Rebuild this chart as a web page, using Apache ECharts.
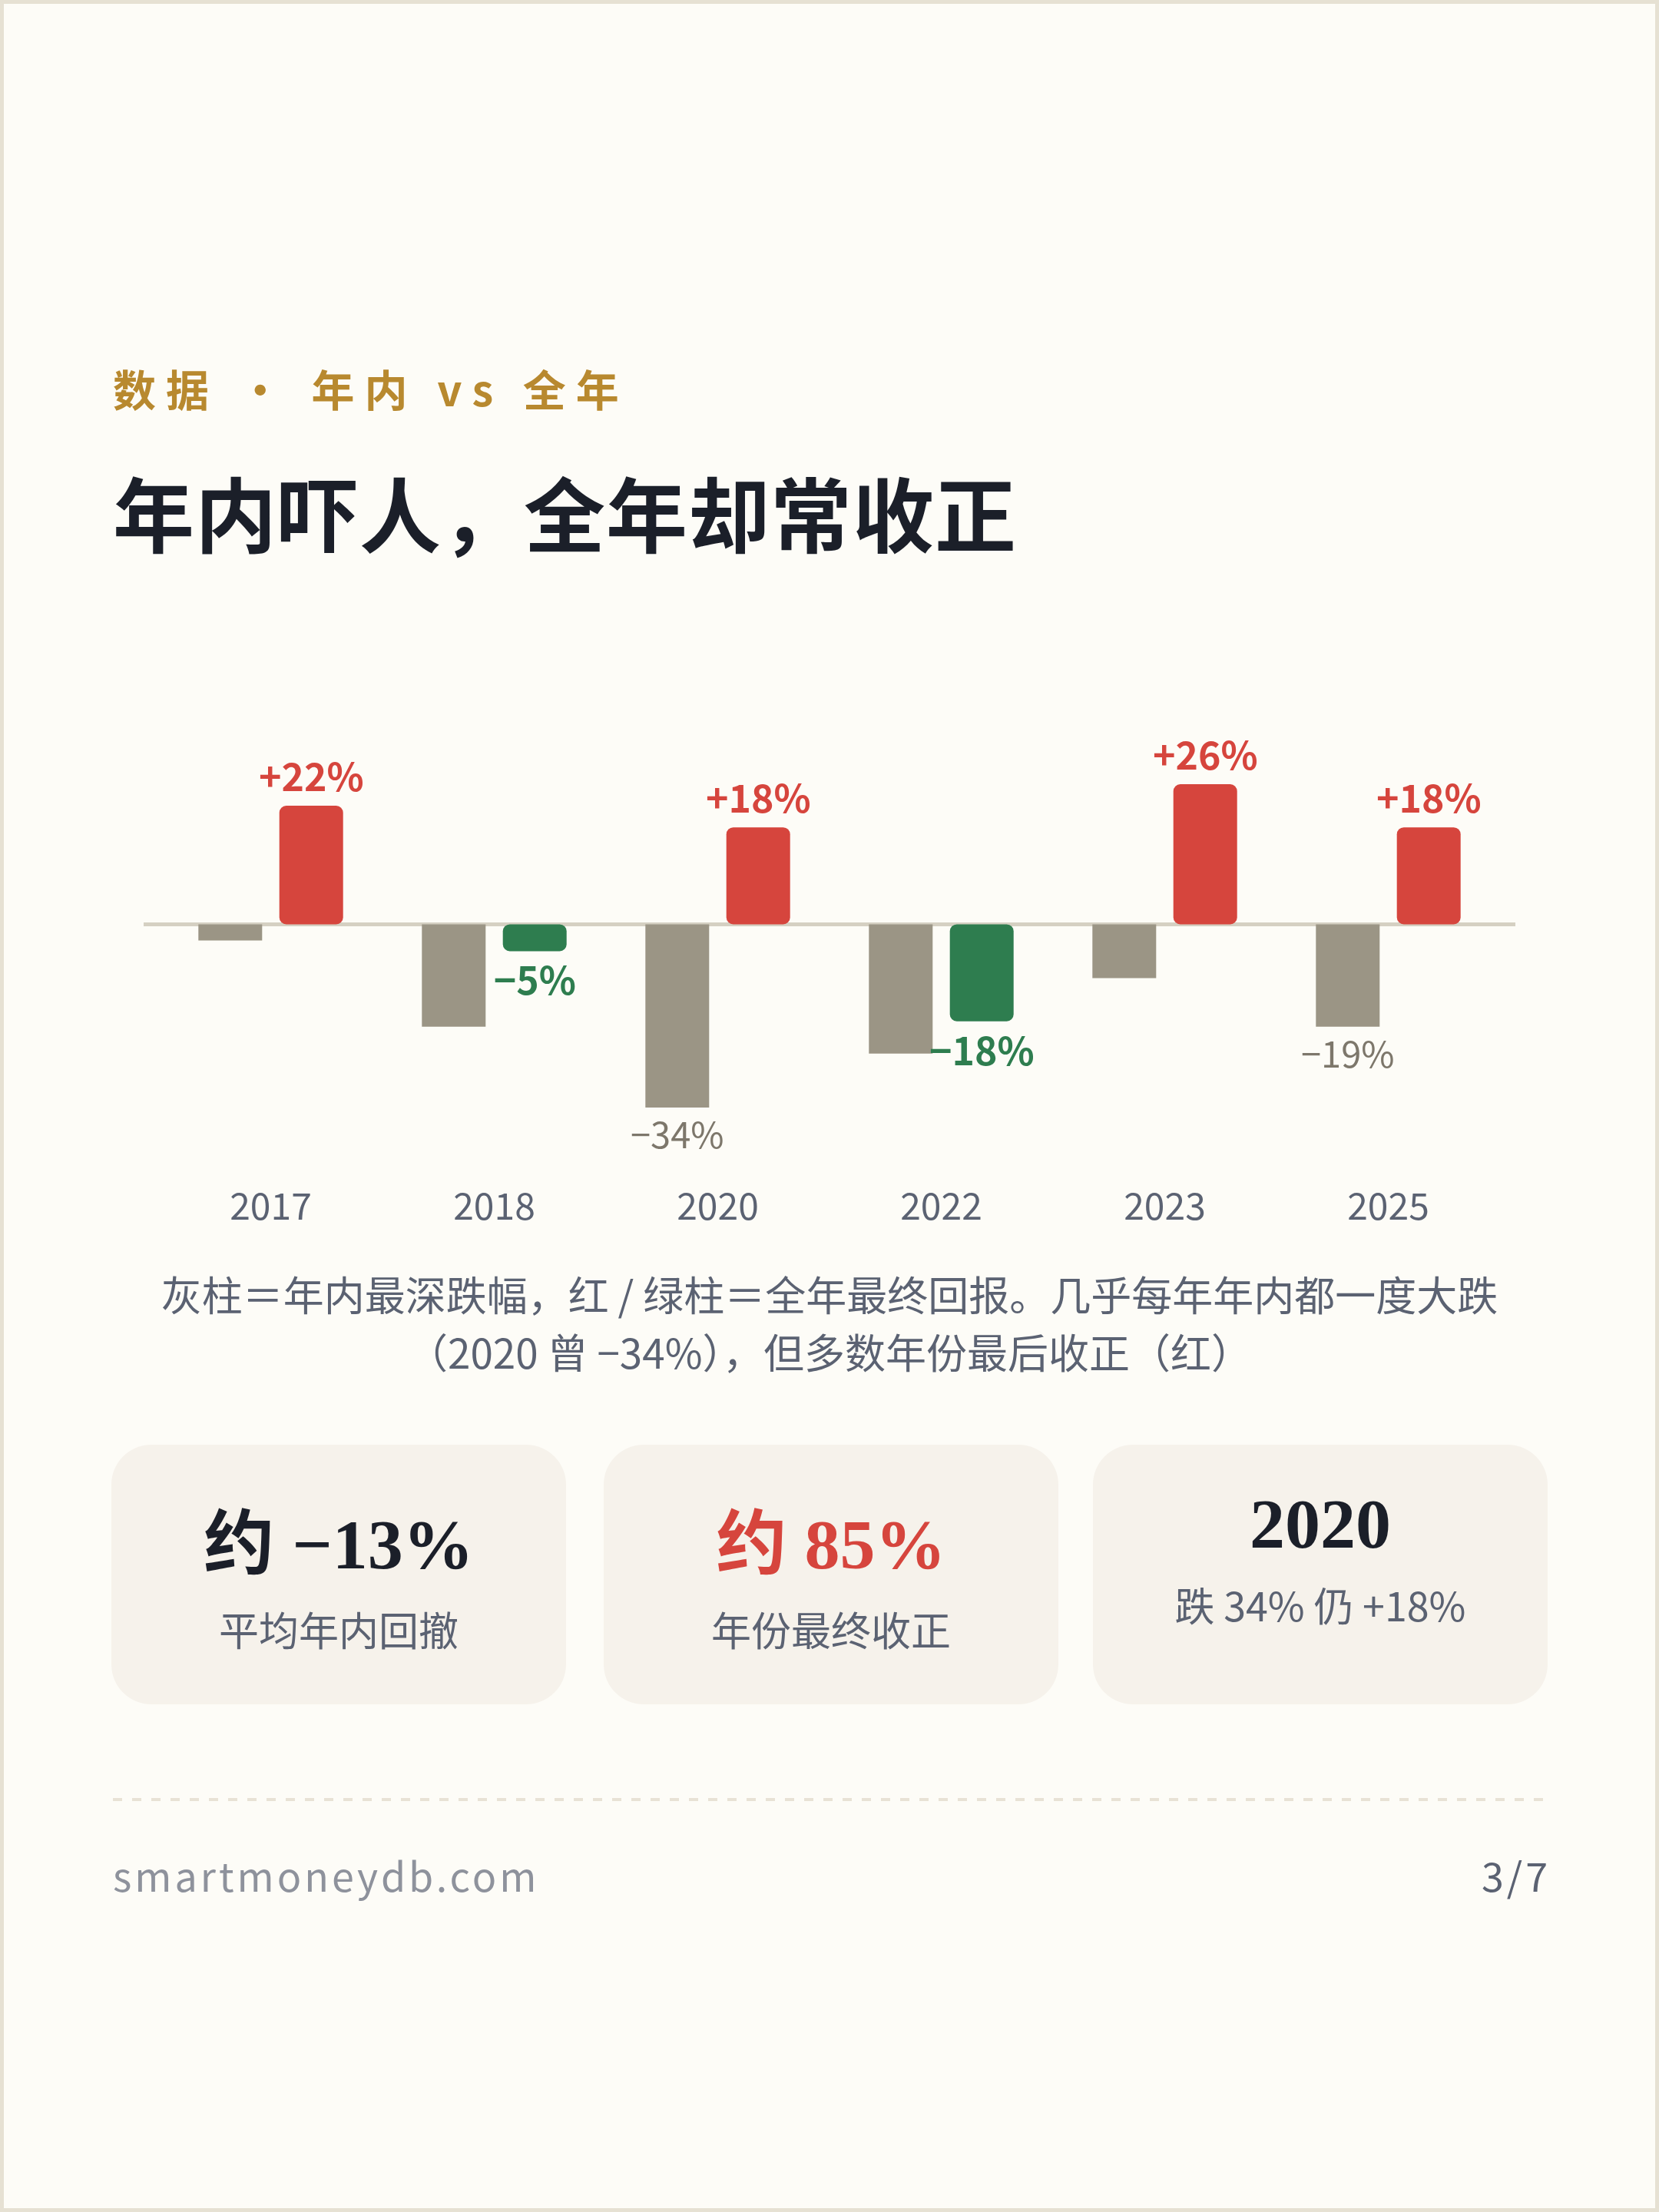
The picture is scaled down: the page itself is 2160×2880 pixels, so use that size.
<!DOCTYPE html>
<html>
<head>
<meta charset="utf-8">
<script src="https://cdn.jsdelivr.net/npm/echarts@6/dist/echarts.min.js"></script>
<style>
  html, body { margin: 0; padding: 0; background: #fdfcf7; }
  .page {
    position: relative; width: 2160px; height: 2880px; box-sizing: border-box;
    border: 5px solid #e6e1d3; background: #fdfcf7; overflow: hidden;
    font-family: "Noto Sans CJK SC", "Noto Sans", sans-serif;
  }
  .abs { position: absolute; }
  .eyebrow { left: 142px; top: 470px; font-size: 56px; line-height: 60px; font-weight: 700; color: #b8892f; letter-spacing: 13px; white-space: pre; }
  .title { left: 142px; top: 600px; font-size: 106px; line-height: 120px; font-weight: 700; color: #1b1f29; letter-spacing: 1px; }
  #chart { left: 0; top: 891px; width: 2150px; height: 740px; }
  .caption { left: 142px; width: 1866px; top: 1642px; font-size: 53px; line-height: 75px; color: #5b6272; text-align: center; }
  .card { top: 1876px; height: 338px; width: 592px; background: #f6f2eb; border-radius: 52px; text-align: center; }
  .big { position: absolute; left: 0; right: 0; font-family: "Liberation Serif", "Noto Sans CJK SC", serif; font-weight: 700; font-size: 92px; line-height: 110px; color: #1b1f29; }
  .sub { position: absolute; left: 0; right: 0; font-size: 52px; line-height: 64px; color: #5b6272; }
  .dash { left: 142px; top: 2336px; width: 1868px; height: 4px; background: repeating-linear-gradient(to right, #e8e2d5 0 12px, transparent 12px 25px); }
  .foot { top: 2406px; font-size: 52px; line-height: 60px; letter-spacing: 4px; }
</style>
</head>
<body>
<div class="page">
  <div class="abs eyebrow">数据 · 年内 vs 全年</div>
  <div class="abs title">年内吓人，全年却常收正</div>
  <div class="abs" id="chart"></div>
  <div class="abs caption">灰柱＝年内最深跌幅，红 / 绿柱＝全年最终回报。几乎每年年内都一度大跌<br>（2020 曾 −34%），但多数年份最后收正（红）</div>

  <div class="abs card" style="left:140px">
    <div class="big" style="top:75px">约 −13%</div>
    <div class="sub" style="top:208px">平均年内回撤</div>
  </div>
  <div class="abs card" style="left:781px">
    <div class="big" style="top:75px;color:#d6453d">约 85%</div>
    <div class="sub" style="top:208px">年份最终收正</div>
  </div>
  <div class="abs card" style="left:1418px">
    <div class="big" style="top:48px">2020</div>
    <div class="sub" style="top:176px">跌 34% 仍 +18%</div>
  </div>

  <div class="abs dash"></div>
  <div class="abs foot" style="left:142px;color:#8e929c">smartmoneydb.com</div>
  <div class="abs foot" style="right:136px;color:#5b6272">3/7</div>
</div>

<script>
// years shown on the x axis
const years = ['2017', '2018', '2020', '2022', '2023', '2025'];
// deepest intra-year drop (%), grey bars
const intraYearDrop = [-3, -19, -34, -24, -10, -19];
// full-year return (%), red/green bars
const fullYearReturn = [22, -5, 18, -18, 26, 18];
// which grey bars carry a value label
const dropLabelShown = [false, false, true, false, false, true];

const RED = '#d6453d';
const GREEN = '#2e7d4f';
const GREY = '#9b9585';
const GRID_LEFT = 202;
const GRID_RIGHT = 202;

const fmt = v => (v > 0 ? '+' : '\u2212') + Math.abs(v) + '%';

const chart = echarts.init(document.getElementById('chart'));

const option = {
  animation: false,
  grid: { left: GRID_LEFT, right: GRID_RIGHT, top: 97, bottom: 152 },
  xAxis: {
    type: 'category',
    data: years,
    axisLine: { show: false, onZero: false },
    axisTick: { show: false },
    axisLabel: {
      margin: 62,
      fontSize: 48,
      color: '#5b6272',
      fontFamily: 'Noto Sans CJK SC'
    }
  },
  yAxis: {
    type: 'value',
    min: -40,
    max: 30,
    show: false,
    splitLine: { show: false }
  },
  series: [
    {
      name: '年内最深跌幅',
      type: 'bar',
      barWidth: 83,
      barGap: '27%',
      z: 3,
      data: intraYearDrop.map((v, i) => ({
        value: v,
        label: { show: dropLabelShown[i] }
      })),
      itemStyle: { color: GREY },
      label: {
        position: 'bottom',
        distance: 12,
        formatter: p => fmt(p.value),
        fontSize: 47,
        color: '#7d776b',
        fontFamily: 'Noto Sans CJK SC'
      }
    },
    {
      name: '全年最终回报',
      type: 'bar',
      barWidth: 83,
      barGap: '27%',
      z: 3,
      data: fullYearReturn.map(v => ({
        value: v,
        itemStyle: { color: v >= 0 ? RED : GREEN, borderRadius: 9 },
        label: { position: v >= 0 ? 'top' : 'bottom', color: v >= 0 ? RED : GREEN }
      })),
      label: {
        show: true,
        distance: 13,
        formatter: p => fmt(p.value),
        fontSize: 50,
        fontWeight: 'bold',
        fontFamily: 'Noto Sans CJK SC'
      }
    }
  ]
};

chart.setOption(option);

// zero baseline, a little wider than the plot area
const y0 = chart.convertToPixel({ yAxisIndex: 0 }, 0);
chart.setOption({
  graphic: [{
    type: 'line',
    z: 1,
    shape: { x1: GRID_LEFT - 20, y1: y0, x2: chart.getWidth() - GRID_RIGHT + 20, y2: y0 },
    style: { stroke: '#d5d0c2', lineWidth: 5 }
  }]
});
</script>
</body>
</html>
